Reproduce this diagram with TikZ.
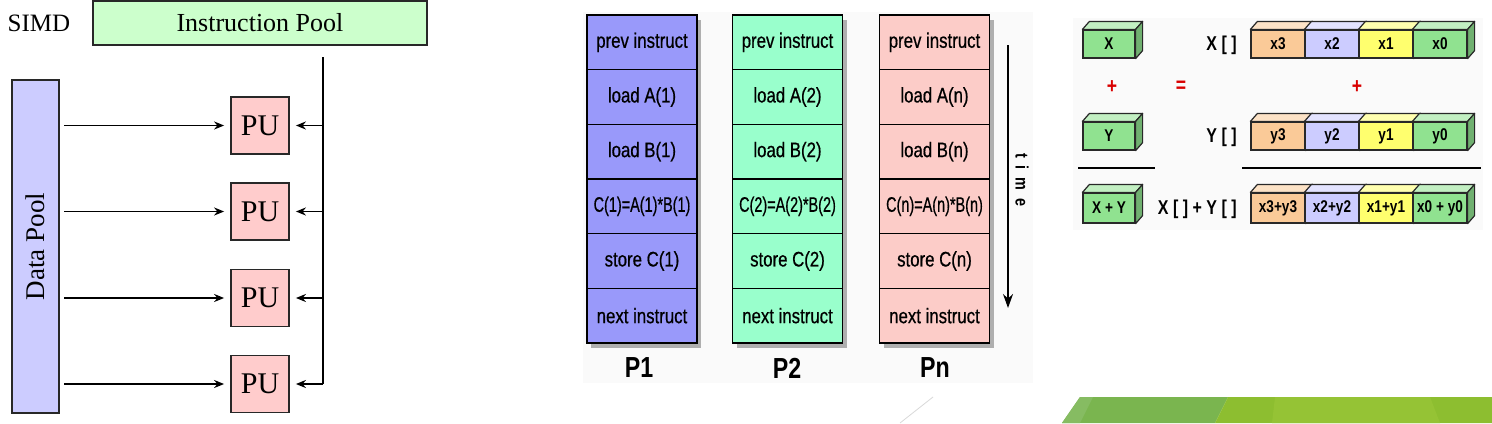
\documentclass[tikz,border=0pt]{standalone}
\usepackage{fontspec}
\setmainfont{Liberation Serif}
\newfontfamily\cellfont[FakeStretch=0.8,FakeBold=0.6]{Liberation Sans}
\newfontfamily\boldsans[FakeStretch=0.8]{Liberation Sans Bold}
\usetikzlibrary{arrows.meta,calc}
\definecolor{ipool}{RGB}{204,255,204}
\definecolor{dpool}{RGB}{204,204,255}
\definecolor{pucol}{RGB}{255,204,204}
\definecolor{cpone}{RGB}{153,153,250}
\definecolor{cptwo}{RGB}{153,255,204}
\definecolor{cpn}{RGB}{252,204,200}
\definecolor{cgreen}{RGB}{144,226,144}
\definecolor{corange}{RGB}{250,202,152}
\definecolor{clav}{RGB}{204,204,255}
\definecolor{cyel}{RGB}{255,255,110}
\definecolor{edgegray}{RGB}{40,40,40}
\definecolor{decoA}{RGB}{122,181,79}
\definecolor{decoL}{RGB}{134,188,98}
\definecolor{decoB}{RGB}{141,190,48}
\definecolor{decoC}{RGB}{149,195,53}
\newcommand\cubebox[7]{%
  \node[cubefront, fill=#6, minimum width=#4, minimum height=#5] (#1) at (#2,#3) {#7};
  \filldraw[cubeedge, fill=#6!55!white] (#1.north west) -- ++(7,-8) -- ($(#1.north east)+(7,-8)$) -- (#1.north east) -- cycle;
  \filldraw[cubeedge, fill=#6!78!black] (#1.north east) -- ++(7,-8) -- ($(#1.south east)+(7,-8)$) -- (#1.south east) -- cycle;
}
\begin{document}
\begin{tikzpicture}[x=0.5pt,y=-0.5pt,
  serifbox/.style={draw=edgegray, line width=0.9pt, inner sep=0pt},
  pubox/.style={serifbox, fill=pucol, minimum width=29pt, minimum height=28.5pt, font=\fontsize{15}{17}\selectfont},
  arr/.style={line width=0.9pt, -{Stealth[length=5pt,width=4pt]}},
  cell/.style={draw=black, line width=0.8pt, minimum width=55pt, minimum height=27.33pt, inner sep=0pt, font=\cellfont\fontsize{10.5}{12}\selectfont},
  plabel/.style={font=\boldsans\fontsize{14.5}{16}\selectfont},
  cubefront/.style={draw=edgegray, line width=0.6pt, inner sep=0pt, font=\boldsans\fontsize{8.5}{10}\selectfont},
  cubeedge/.style={draw=edgegray, line width=0.6pt, line join=round},
  arrlabel/.style={font=\boldsans\fontsize{10}{11}\selectfont, inner sep=0pt},
  redsign/.style={text=red!85!black, font=\boldsans\fontsize{11}{12}\selectfont, inner sep=0pt}
]
\useasboundingbox (0,0) rectangle (1492,423);
\fill[white] (0,0) rectangle (1492,423);

% ---------------- left: SIMD ----------------
\node[font=\fontsize{12.5}{14}\selectfont] (simd) at (39,23) {SIMD};
\node[serifbox, fill=ipool, minimum width=167pt, minimum height=22pt, font=\fontsize{13}{15}\selectfont] (ip) at (260,23) {Instruction Pool};
\node[serifbox, fill=dpool, rotate=90, minimum width=166.5pt, minimum height=23.5pt, font=\fontsize{13.5}{15}\selectfont] (dp) at (35.5,246.5) {Data Pool};
\foreach \i/\y in {1/125.5, 2/211.5, 3/298, 4/384} {
  \node[pubox] (pu\i) at (260,\y) {PU};
  \coordinate (d\i) at (64,\y);
  \coordinate (t\i) at (323,\y);
  \draw[arr, shorten >=3pt] (d\i) -- (pu\i.west);
  \draw[arr, shorten >=3pt] (t\i) -- (pu\i.east);
}
\coordinate (ib) at (323,57);
\draw[line width=0.9pt] (ib) -- (t4);

% ---------------- middle: timeline ----------------
\fill[black!2] (583,12) rectangle (1033,383);
\foreach \col/\cx/\clr/\id in {p1/642/cpone/1, p2/787.5/cptwo/2, pn/934.5/cpn/n} {
  \fill[black!55, opacity=0.55] ({\cx-51},20) rectangle ({\cx+59},348);
  \node[cell, fill=\clr] (\col-1) at (\cx,42.33) {prev instruct};
  \node[cell, fill=\clr] (\col-2) at (\cx,97) {load A(\id)};
  \node[cell, fill=\clr] (\col-3) at (\cx,151.67) {load B(\id)};
  \node[cell, fill=\clr] (\col-4) at (\cx,206.33) {\scalebox{0.86}[1]{C(\id)=A(\id)*B(\id)}};
  \node[cell, fill=\clr] (\col-5) at (\cx,261) {store C(\id)};
  \node[cell, fill=\clr] (\col-6) at (\cx,315.67) {next instruct};
}
\node[plabel] (lp1) at (639,368) {P1};
\node[plabel] (lp2) at (787,368) {P2};
\node[plabel] (lpn) at (935,368) {Pn};
\coordinate (ta) at (1008,45);
\coordinate (tb) at (1008,308);
\draw[line width=0.8pt, -{Stealth[length=7pt,width=5pt]}] (ta) -- (tb);
\node[rotate=-90, font=\boldsans\fontsize{9}{10}\selectfont] (timelbl) at (1022,180) {t\hspace{4pt}i\hspace{4pt}m\hspace{4pt}e};

% ---------------- right: vector add ----------------
\fill[black!2] (1073,18) rectangle (1483,230);
\cubebox{bx}{1109}{44}{26pt}{14pt}{cgreen}{X}
\cubebox{by}{1109}{136}{26pt}{14pt}{cgreen}{Y}
\cubebox{bxy}{1109}{208}{26pt}{15pt}{cgreen}{X + Y}
\node[redsign] (plus1) at (1112,87) {+};
\node[redsign] (eq) at (1181,87) {=};
\node[redsign] (plus2) at (1357,87) {+};
\draw[line width=1pt] (1078,168) -- (1155,168);
\draw[line width=1pt] (1242,168) -- (1481,168);
\node[arrlabel, anchor=east] (lx) at (1237,45) {X [ ]};
\node[arrlabel, anchor=east] (ly) at (1237,137) {Y [ ]};
\node[arrlabel, anchor=east] (lxy) at (1237,209) {X [ ] + Y [ ]};
\cubebox{x3}{1278}{44}{27pt}{14pt}{corange}{x3}
\cubebox{x2}{1332}{44}{27pt}{14pt}{clav}{x2}
\cubebox{x1}{1386}{44}{27pt}{14pt}{cyel}{x1}
\cubebox{x0}{1440}{44}{27pt}{14pt}{cgreen}{x0}
\cubebox{y3}{1278}{136}{27pt}{14pt}{corange}{y3}
\cubebox{y2}{1332}{136}{27pt}{14pt}{clav}{y2}
\cubebox{y1}{1386}{136}{27pt}{14pt}{cyel}{y1}
\cubebox{y0}{1440}{136}{27pt}{14pt}{cgreen}{y0}
\cubebox{s3}{1278}{208}{27pt}{15pt}{corange}{x3+y3}
\cubebox{s2}{1332}{208}{27pt}{15pt}{clav}{x2+y2}
\cubebox{s1}{1386}{208}{27pt}{15pt}{cyel}{x1+y1}
\cubebox{s0}{1440}{208}{27pt}{15pt}{cgreen}{x0 + y0}

% ---------------- bottom decoration ----------------
\draw[black!15, line width=0.4pt] (900,423) -- (933,397);
\fill[decoA] (1062,423) -- (1080,397) -- (1228,397) -- (1215,423) -- cycle;
\fill[decoL] (1062,423) -- (1080,397) -- (1093,397) -- (1080,423) -- cycle;
\fill[decoB] (1215,423) -- (1228,397) -- (1492,397) -- (1492,423) -- cycle;
\fill[decoC] (1272,423) -- (1275,397) -- (1430,397) -- (1440,423) -- cycle;
\end{tikzpicture}
\end{document}
